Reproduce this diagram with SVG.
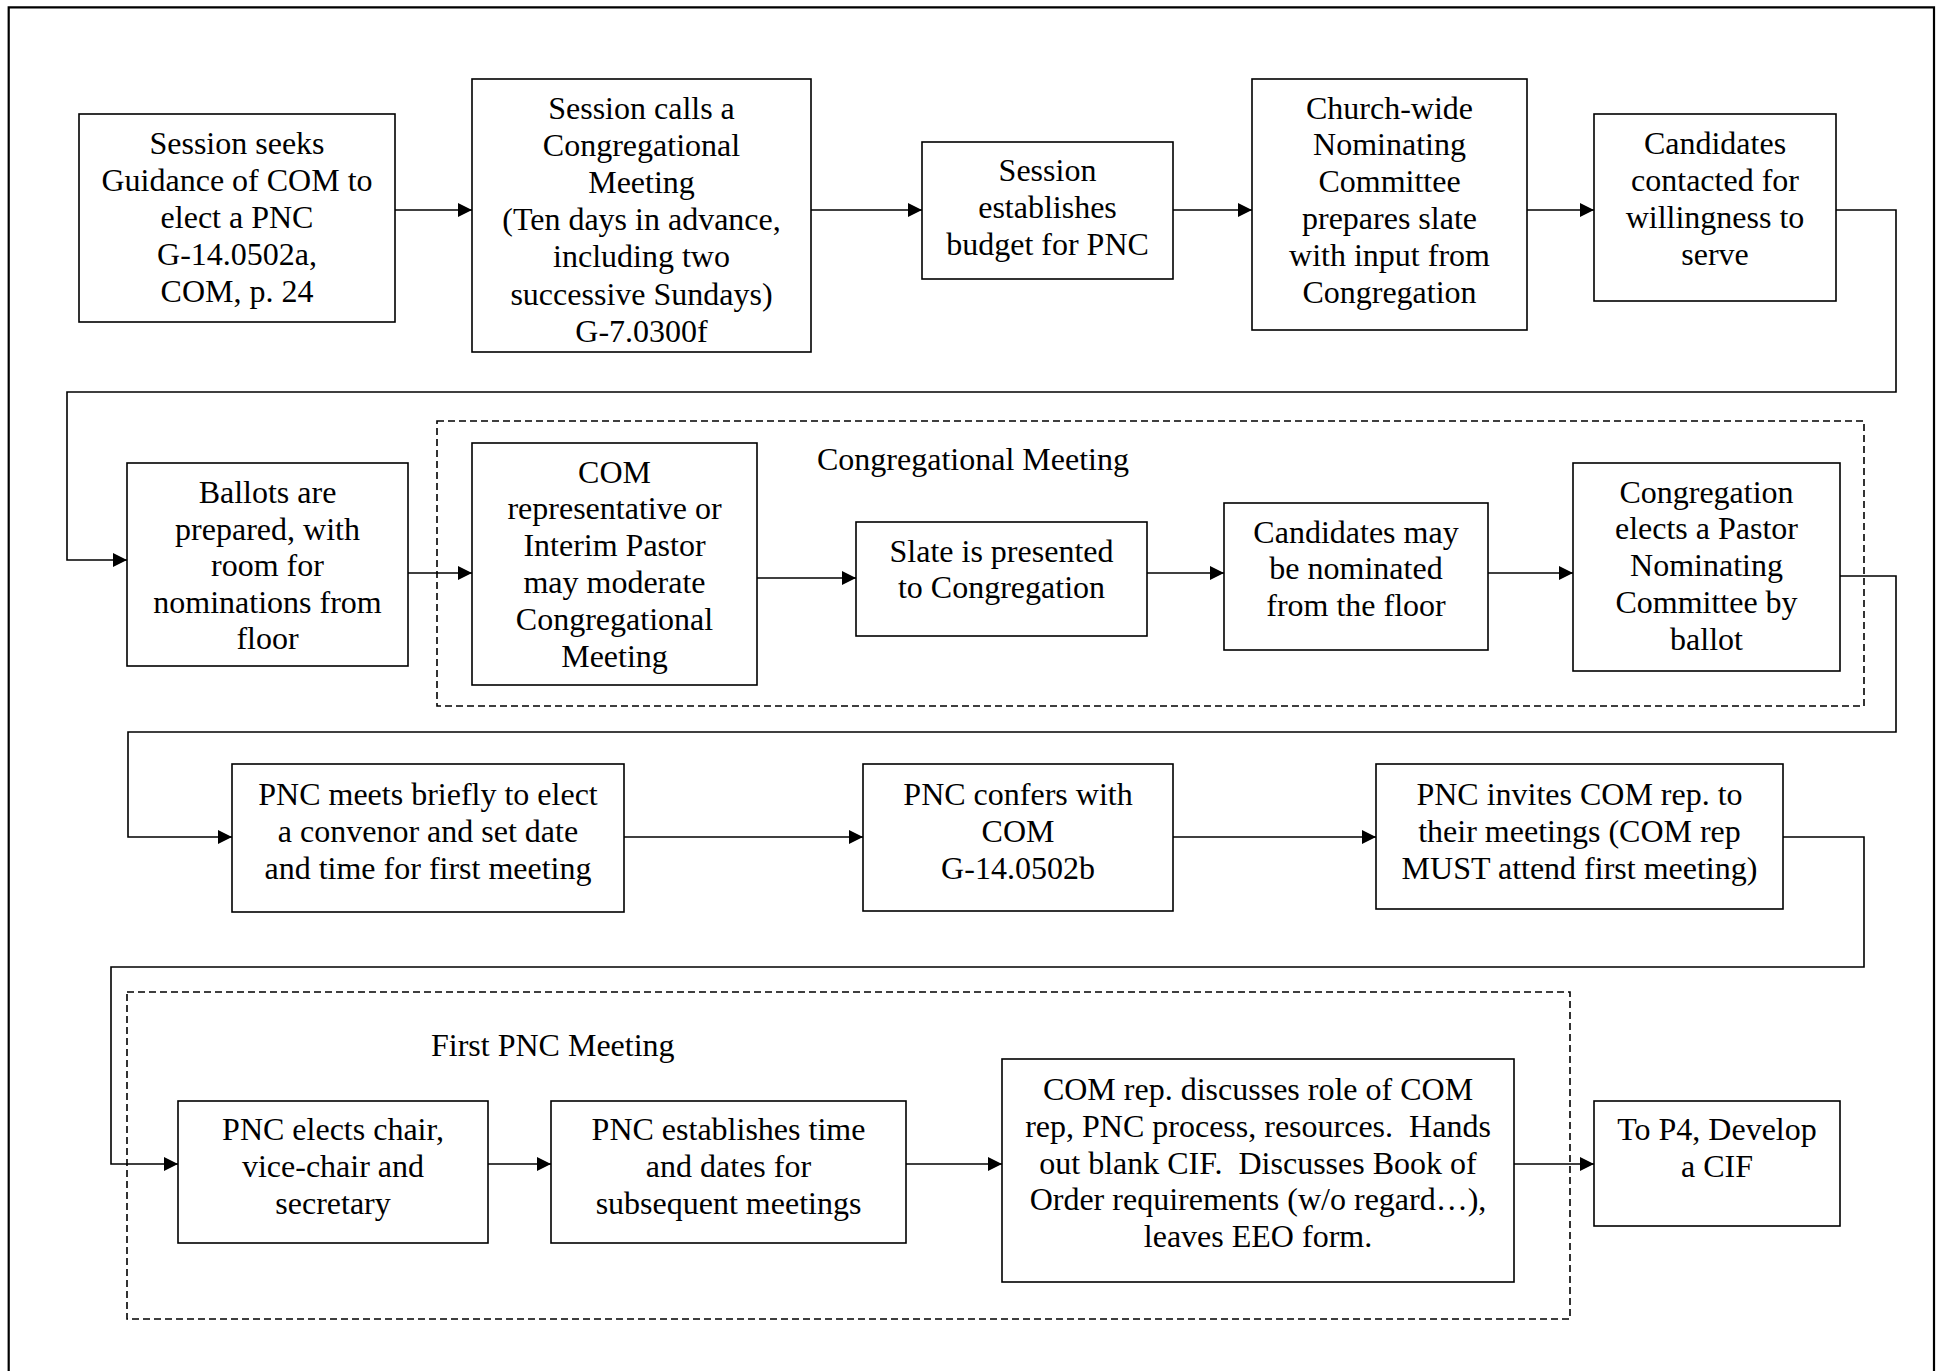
<svg xmlns="http://www.w3.org/2000/svg" width="1941" height="1371" viewBox="0 0 1941 1371">
<style>
.box{fill:#fff;stroke:#000;stroke-width:1.6}
.grp{fill:none;stroke:#000;stroke-width:1.6;stroke-dasharray:7 4}
.con{fill:none;stroke:#000;stroke-width:1.6}
text{font-family:"Liberation Serif","Times New Roman",serif;font-size:32px;fill:#000;white-space:pre}
.c{text-anchor:middle}
</style>
<defs>
<marker id="arr" markerUnits="userSpaceOnUse" markerWidth="15" markerHeight="15" refX="14" refY="7" orient="auto">
<path d="M0,0 L14,7 L0,14 z" fill="#000"/>
</marker>
</defs>
<rect width="1941" height="1371" fill="#fff"/>
<path d="M8.7,1375 V7.3 H1934 V1375" fill="none" stroke="#000" stroke-width="2.2"/>

<g id="groups">
<rect class="grp" x="437" y="421" width="1427" height="285"/>
<text x="817" y="470">Congregational Meeting</text>
<rect class="grp" x="127" y="992" width="1443" height="327"/>
<text x="431" y="1056">First PNC Meeting</text>
</g>

<g id="connectors">
<path class="con" d="M395,210 H472" marker-end="url(#arr)"/>
<path class="con" d="M811,210 H922" marker-end="url(#arr)"/>
<path class="con" d="M1173,210 H1252" marker-end="url(#arr)"/>
<path class="con" d="M1527,210 H1594" marker-end="url(#arr)"/>
<path class="con" d="M1836,210 H1896 V392 H67 V560 H127" marker-end="url(#arr)"/>
<path class="con" d="M408,573 H472" marker-end="url(#arr)"/>
<path class="con" d="M757,578 H856" marker-end="url(#arr)"/>
<path class="con" d="M1147,573 H1224" marker-end="url(#arr)"/>
<path class="con" d="M1488,573 H1573" marker-end="url(#arr)"/>
<path class="con" d="M1840,576 H1896 V732 H128 V837 H232" marker-end="url(#arr)"/>
<path class="con" d="M624,837 H863" marker-end="url(#arr)"/>
<path class="con" d="M1173,837 H1376" marker-end="url(#arr)"/>
<path class="con" d="M1783,837 H1864 V967 H111 V1164 H178" marker-end="url(#arr)"/>
<path class="con" d="M488,1164 H551" marker-end="url(#arr)"/>
<path class="con" d="M906,1164 H1002" marker-end="url(#arr)"/>
<path class="con" d="M1514,1164 H1594" marker-end="url(#arr)"/>
</g>

<g id="n1"><rect class="box" x="79" y="114" width="316" height="208"/>
<text class="c"><tspan x="237" y="154.3">Session seeks</tspan><tspan x="237" y="191.1">Guidance of COM to</tspan><tspan x="237" y="227.9">elect a PNC</tspan><tspan x="237" y="264.7">G-14.0502a,</tspan><tspan x="237" y="301.5">COM, p. 24</tspan></text></g>

<g id="n2"><rect class="box" x="472" y="79" width="339" height="273"/>
<text class="c"><tspan x="641.5" y="118.5">Session calls a</tspan><tspan x="641.5" y="155.7">Congregational</tspan><tspan x="641.5" y="192.9">Meeting</tspan><tspan x="641.5" y="230.1">(Ten days in advance,</tspan><tspan x="641.5" y="267.3">including two</tspan><tspan x="641.5" y="304.5">successive Sundays)</tspan><tspan x="641.5" y="341.7">G-7.0300f</tspan></text></g>

<g id="n3"><rect class="box" x="922" y="142" width="251" height="137"/>
<text class="c"><tspan x="1047.5" y="181">Session</tspan><tspan x="1047.5" y="218">establishes</tspan><tspan x="1047.5" y="255">budget for PNC</tspan></text></g>

<g id="n4"><rect class="box" x="1252" y="79" width="275" height="251"/>
<text class="c"><tspan x="1389.5" y="118.5">Church-wide</tspan><tspan x="1389.5" y="155.3">Nominating</tspan><tspan x="1389.5" y="192.1">Committee</tspan><tspan x="1389.5" y="228.9">prepares slate</tspan><tspan x="1389.5" y="265.7">with input from</tspan><tspan x="1389.5" y="302.5">Congregation</tspan></text></g>

<g id="n5"><rect class="box" x="1594" y="114" width="242" height="187"/>
<text class="c"><tspan x="1715" y="154.3">Candidates</tspan><tspan x="1715" y="191.1">contacted for</tspan><tspan x="1715" y="227.9">willingness to</tspan><tspan x="1715" y="264.7">serve</tspan></text></g>

<g id="n6"><rect class="box" x="127" y="463" width="281" height="203"/>
<text class="c"><tspan x="267.5" y="503">Ballots are</tspan><tspan x="267.5" y="539.6">prepared, with</tspan><tspan x="267.5" y="576.2">room for</tspan><tspan x="267.5" y="612.8">nominations from</tspan><tspan x="267.5" y="649.4">floor</tspan></text></g>

<g id="n7"><rect class="box" x="472" y="443" width="285" height="242"/>
<text class="c"><tspan x="614.5" y="482.5">COM</tspan><tspan x="614.5" y="519.3">representative or</tspan><tspan x="614.5" y="556.1">Interim Pastor</tspan><tspan x="614.5" y="592.9">may moderate</tspan><tspan x="614.5" y="629.7">Congregational</tspan><tspan x="614.5" y="666.5">Meeting</tspan></text></g>

<g id="n8"><rect class="box" x="856" y="522" width="291" height="114"/>
<text class="c"><tspan x="1001.5" y="561.5">Slate is presented</tspan><tspan x="1001.5" y="598.3">to Congregation</tspan></text></g>

<g id="n9"><rect class="box" x="1224" y="503" width="264" height="147"/>
<text class="c"><tspan x="1356" y="542.5">Candidates may</tspan><tspan x="1356" y="579.3">be nominated</tspan><tspan x="1356" y="616.1">from the floor</tspan></text></g>

<g id="n10"><rect class="box" x="1573" y="463" width="267" height="208"/>
<text class="c"><tspan x="1706.5" y="502.5">Congregation</tspan><tspan x="1706.5" y="539.3">elects a Pastor</tspan><tspan x="1706.5" y="576.1">Nominating</tspan><tspan x="1706.5" y="612.9">Committee by</tspan><tspan x="1706.5" y="649.7">ballot</tspan></text></g>

<g id="n11"><rect class="box" x="232" y="764" width="392" height="148"/>
<text class="c"><tspan x="428" y="805">PNC meets briefly to elect</tspan><tspan x="428" y="841.8">a convenor and set date</tspan><tspan x="428" y="878.6">and time for first meeting</tspan></text></g>

<g id="n12"><rect class="box" x="863" y="764" width="310" height="147"/>
<text class="c"><tspan x="1018" y="805">PNC confers with</tspan><tspan x="1018" y="841.8">COM</tspan><tspan x="1018" y="878.6">G-14.0502b</tspan></text></g>

<g id="n13"><rect class="box" x="1376" y="764" width="407" height="145"/>
<text class="c"><tspan x="1579.5" y="805">PNC invites COM rep. to</tspan><tspan x="1579.5" y="841.8">their meetings (COM rep</tspan><tspan x="1579.5" y="878.6">MUST attend first meeting)</tspan></text></g>

<g id="n14"><rect class="box" x="178" y="1101" width="310" height="142"/>
<text class="c"><tspan x="333" y="1140.3">PNC elects chair,</tspan><tspan x="333" y="1177.1">vice-chair and</tspan><tspan x="333" y="1213.9">secretary</tspan></text></g>

<g id="n15"><rect class="box" x="551" y="1101" width="355" height="142"/>
<text class="c"><tspan x="728.5" y="1140.3">PNC establishes time</tspan><tspan x="728.5" y="1177.1">and dates for</tspan><tspan x="728.5" y="1213.9">subsequent meetings</tspan></text></g>

<g id="n16"><rect class="box" x="1002" y="1059" width="512" height="223"/>
<text class="c"><tspan x="1258" y="1100">COM rep. discusses role of COM</tspan><tspan x="1258" y="1136.8">rep, PNC process, resources.  Hands</tspan><tspan x="1258" y="1173.6">out blank CIF.  Discusses Book of</tspan><tspan x="1258" y="1210.4">Order requirements (w/o regard…),</tspan><tspan x="1258" y="1247.2">leaves EEO form.</tspan></text></g>

<g id="n17"><rect class="box" x="1594" y="1101" width="246" height="125"/>
<text class="c"><tspan x="1717" y="1140">To P4, Develop</tspan><tspan x="1717" y="1176.8">a CIF</tspan></text></g>
</svg>
